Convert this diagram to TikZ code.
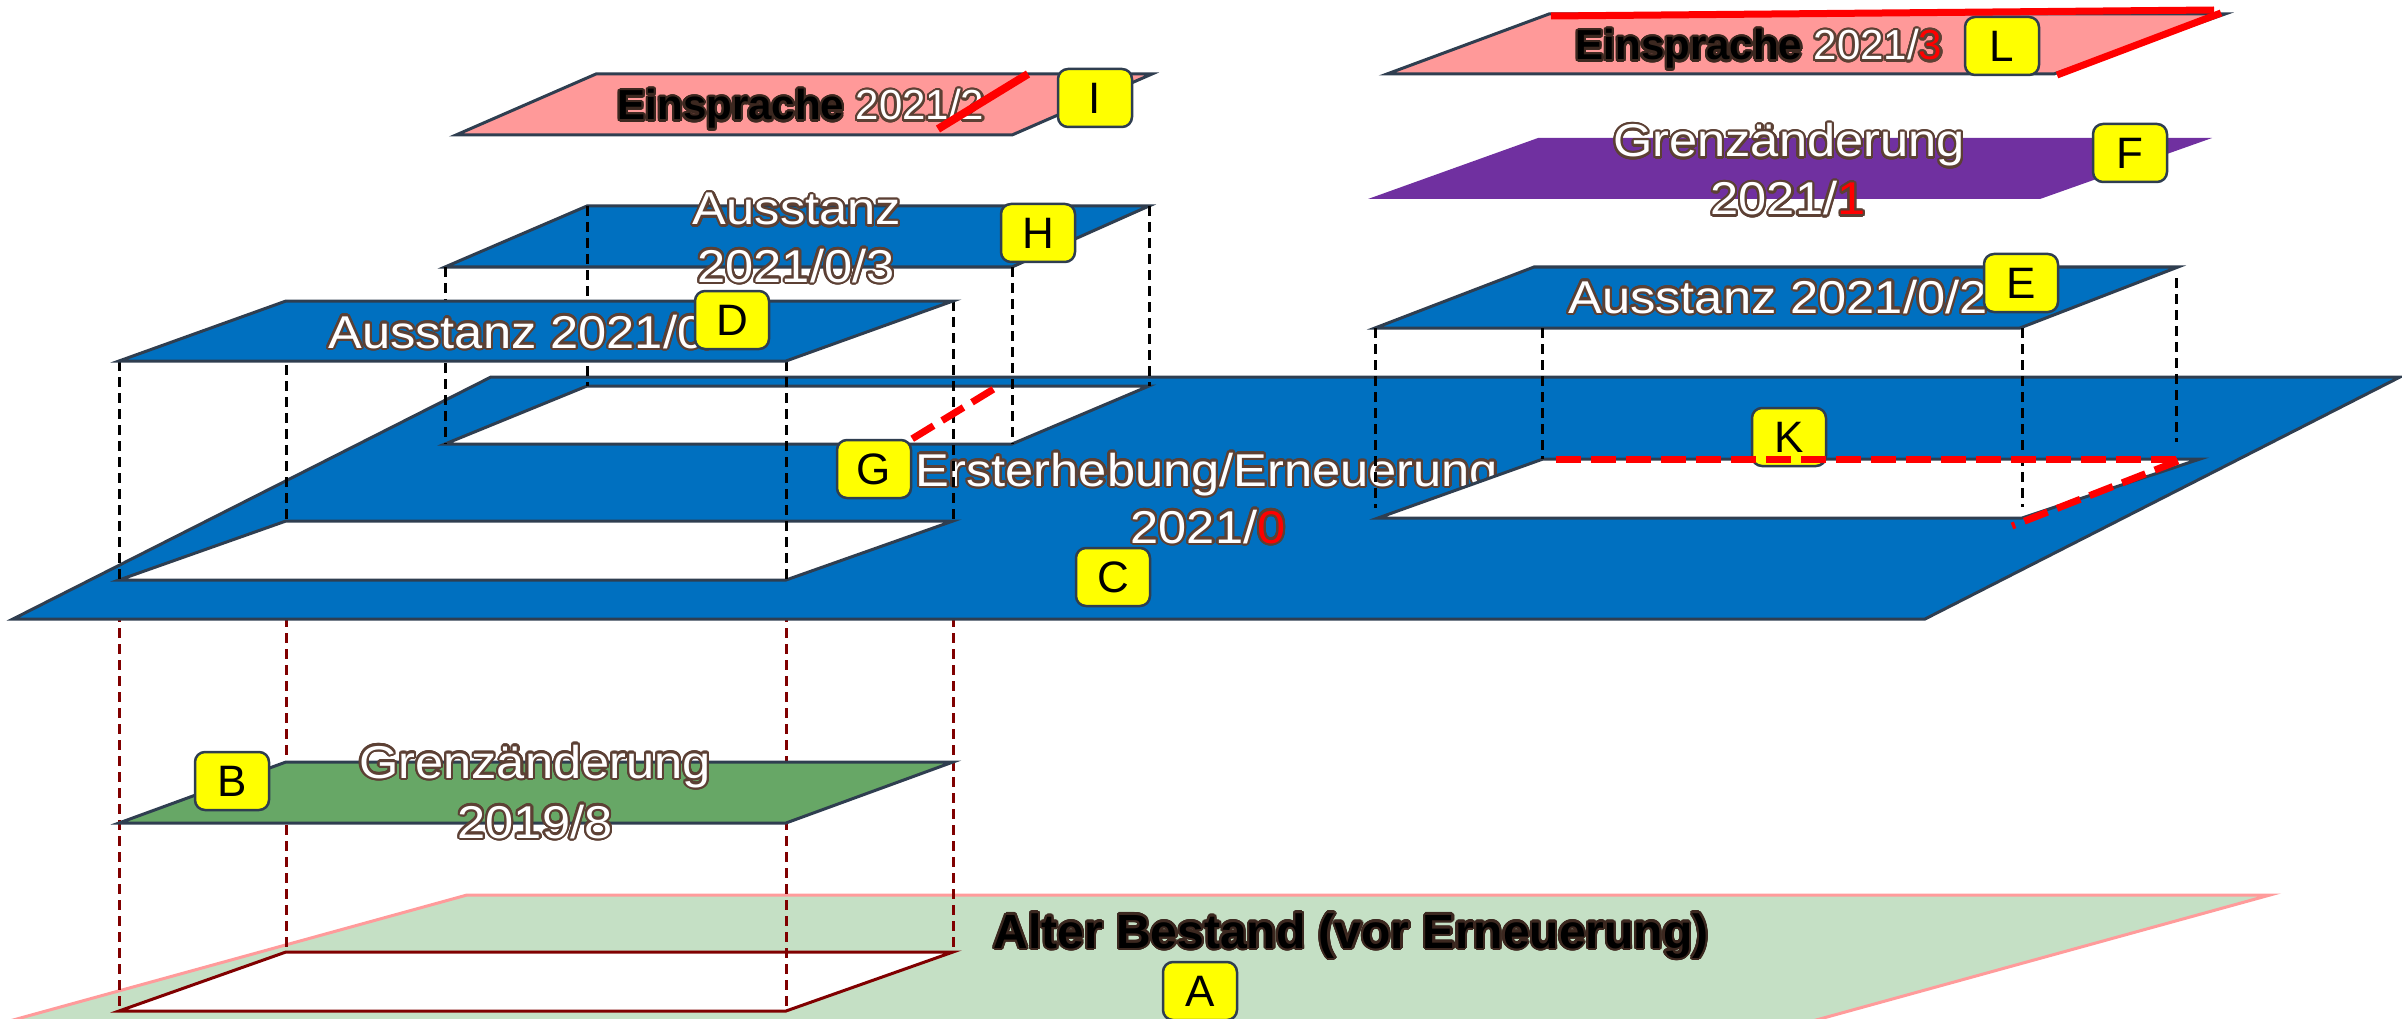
\documentclass[tikz,border=0pt]{standalone}
\usepackage{fontspec}
\setmainfont{Liberation Sans}
\newfontfamily\outlinefont[FakeStretch=1.1]{Liberation Sans}
\usepackage{contour}
\contourlength{2.2pt}
\contournumber{24}

\definecolor{planeblue}{RGB}{0,112,192}
\definecolor{edge}{RGB}{47,62,80}
\definecolor{groundfill}{RGB}{197,224,197}
\definecolor{groundedge}{RGB}{255,155,155}
\definecolor{grassgreen}{RGB}{103,167,102}
\definecolor{objection}{RGB}{255,153,153}
\definecolor{boundary}{RGB}{112,48,160}
\definecolor{darkred}{RGB}{128,0,0}
\definecolor{textrim}{RGB}{92,64,52}
\definecolor{darkrim}{RGB}{60,40,32}
\definecolor{tagyellow}{RGB}{255,255,0}

% white lettering with a brown rim, red variant, and dark bold titles
\newcommand\wtxt[1]{{\color{white}\contour{textrim}{#1}}}
\newcommand\rtxt[1]{{\color{red}\contour{textrim}{#1}}}
\newcommand\btxt[1]{{\color{black}\contour{darkrim}{\bfseries #1}}}

\tikzset{
  plane/.style={draw=edge, line width=3pt, line join=miter},
  holeplane/.style={fill=white, draw=edge, line width=3pt, line join=miter},
  blackdash/.style={black, line width=3pt, dash pattern=on 10pt off 6pt},
  reddash/.style={darkred, line width=3pt, dash pattern=on 10pt off 6pt},
  redmark/.style={red, line width=7pt, dash pattern=on 25pt off 10pt},
  redstrike/.style={red, line width=7pt},
  outlined/.style={anchor=base, inner sep=0pt, font=\outlinefont\fontsize{46}{46}\selectfont},
  darktitle/.style={anchor=base, inner sep=0pt, font=\fontsize{42}{42}\selectfont},
  tag/.style={fill=tagyellow, draw=edge, line width=2.5pt, rounded corners=10pt,
    minimum width=74pt, minimum height=58pt, inner sep=0pt,
    font=\fontsize{44}{44}\selectfont},
}

\begin{document}
\begin{tikzpicture}[x=1pt, y=-1pt]
\useasboundingbox (0,0) rectangle (2402,1019);

% ---------- ground layer A: old stock ----------
\begin{scope}
  \clip (0,0) rectangle (2402,1019);
  \filldraw[fill=groundfill, draw=groundedge, line width=3pt]
    (-132,1060) -- (467,895) -- (2270,895) -- (1671,1060) -- cycle;
\end{scope}
\coordinate (ha1) at (119,1011);
\coordinate (ha2) at (786,1011);
\coordinate (ha3) at (953,952);
\coordinate (ha4) at (286,952);
\filldraw[fill=white, draw=darkred, line width=3pt] (ha1) -- (ha2) -- (ha3) -- (ha4) -- cycle;
\node[anchor=base, inner sep=0pt, font=\fontsize{48}{48}\selectfont] (At) at (1351,948)
  {\btxt{Alter Bestand (vor Erneuerung)}};
\node[tag] (tagA) at (1200,991) {A};

% corners of the left opening in C
\coordinate (ca1) at (119,580);
\coordinate (ca2) at (786,580);
\coordinate (ca3) at (953,521);
\coordinate (ca4) at (286,521);

% dark red guides down to the ground opening
\draw[reddash] (ca1) -- (ha1);
\draw[reddash] (ca2) -- (ha2);
\draw[reddash] (ca3) -- (ha3);
\draw[reddash] (ca4) -- (ha4);

% ---------- B: boundary change 2019/8 ----------
\coordinate (b1) at (119,823);
\coordinate (b2) at (786,823);
\coordinate (b3) at (953,762);
\coordinate (b4) at (286,762);
\filldraw[plane, fill=grassgreen] (b1) -- (b2) -- (b3) -- (b4) -- cycle;
\node[outlined] (Bt1) at (535,778) {\wtxt{Grenzänderung}};
\node[outlined] (Bt2) at (535,838) {\wtxt{2019/8}};
\node[tag] (tagB) at (232,781) {B};

% ---------- C: first survey / renewal ----------
\filldraw[plane, fill=planeblue] (13,619) -- (1925,619) -- (2400,377) -- (491,377) -- cycle;
\filldraw[holeplane] (ca1) -- (ca2) -- (ca3) -- (ca4) -- cycle;
\coordinate (cb1) at (445,444);
\coordinate (cb2) at (1012,444);
\coordinate (cb3) at (1149,386);
\coordinate (cb4) at (587,386);
\filldraw[holeplane] (cb1) -- (cb2) -- (cb3) -- (cb4) -- cycle;
\node[outlined] (Ct1) at (1207,486) {\wtxt{Ersterhebung/Erneuerung}};
\node[outlined] (Ct2) at (1208,543) {\wtxt{2021/}\rtxt{0}};
\coordinate (cc1) at (1378,518);
\coordinate (cc2) at (2022,518);
\coordinate (cc3) at (2200,459);
\coordinate (cc4) at (1543,459);
\filldraw[holeplane] (cc1) -- (cc2) -- (cc3) -- (cc4) -- cycle;

% ---------- H: cut-out 2021/0/3 ----------
\coordinate (h1) at (445,267);
\coordinate (h2) at (1012,267);
\coordinate (h3) at (1149,206);
\coordinate (h4) at (587,206);
\filldraw[plane, fill=planeblue] (h1) -- (h2) -- (h3) -- (h4) -- cycle;
\node[outlined] (Ht1) at (797,225) {\wtxt{Ausstanz}};
\node[outlined] (Ht2) at (796,282) {\wtxt{2021/0/3}};
\draw[blackdash] (h1) -- (cb1);
\draw[blackdash] (h2) -- (cb2);
\draw[blackdash] (h3) -- (cb3);
\draw[blackdash] (h4) -- (cb4);
\node[tag] (tagH) at (1038,233) {H};

% ---------- D: cut-out 2021/0/1 ----------
\coordinate (d1) at (119,361);
\coordinate (d2) at (786,361);
\coordinate (d3) at (953,301);
\coordinate (d4) at (286,301);
\draw[blackdash] (d1) -- (ca1);
\draw[blackdash] (d2) -- (ca2);
\draw[blackdash] (d3) -- (ca3);
\draw[blackdash] (d4) -- (ca4);
\filldraw[plane, fill=planeblue] (d1) -- (d2) -- (d3) -- (d4) -- cycle;
\node[outlined] (Dt) at (538,348) {\wtxt{Ausstanz 2021/0/1}};
\node[tag] (tagD) at (732,320) {D};

% ---------- E: cut-out 2021/0/2 ----------
\coordinate (e1) at (1375,328);
\coordinate (e2) at (2020,328);
\coordinate (e3) at (2178,267);
\coordinate (e4) at (1534,267);
\filldraw[plane, fill=planeblue] (e1) -- (e2) -- (e3) -- (e4) -- cycle;
\coordinate (el1) at (1375,508);
\coordinate (el2a) at (2022,328);
\coordinate (el2) at (2022,507);
\coordinate (el3a) at (2176,278);
\coordinate (el3) at (2176,442);
\coordinate (el4a) at (1542,328);
\draw[blackdash] (e1) -- (el1);
\draw[blackdash] (el2a) -- (el2);
\draw[blackdash] (el3a) -- (el3);
\draw[blackdash] (el4a) -- (cc4 -| el4a);
\node[outlined] (Et) at (1778,313) {\wtxt{Ausstanz 2021/0/2}};
\node[tag] (tagE) at (2021,283) {E};

% ---------- markers on C ----------
\node[tag] (tagK) at (1789,437) {K};
\coordinate (k1) at (1556,459);
\coordinate (k2) at (2182,459);
\coordinate (k3) at (2178,461);
\coordinate (k4) at (2012,526);
\draw[redmark] (k1) -- (k2);
\draw[redmark] (k3) -- (k4);
\node[tag] (tagG) at (874,469) {G};
\coordinate (gEnd) at (997,387);
\draw[redmark] (tagG.north east) -- (gEnd);
\node[tag] (tagC) at (1113,577) {C};

% ---------- F: boundary change 2021/1 ----------
\fill[boundary] (1368,199) -- (2040,199) -- (2212,138) -- (1538,138) -- cycle;
\node[outlined] (Ft1) at (1789,157) {\wtxt{Grenzänderung}};
\node[outlined] (Ft2) at (1788,215) {\wtxt{2021/}\rtxt{1}};
\node[tag] (tagF) at (2130,153) {F};

% ---------- I: objection 2021/2 (struck) ----------
\filldraw[plane, fill=objection] (456,135) -- (1012,135) -- (1152,74) -- (596,74) -- cycle;
\node[darktitle] (It) at (801,120) {\btxt{Einsprache} \wtxt{2021/2}};
\node[tag] (tagI) at (1095,98) {I};
\coordinate (iS1) at (938,129);
\coordinate (iS2) at (1028,74);
\draw[redstrike, line width=8pt] (iS1) -- (iS2);

% ---------- L: objection 2021/3 ----------
\filldraw[plane, fill=objection] (1387,74) -- (2054,74) -- (2225,14) -- (1549,14) -- cycle;
\node[darktitle] (Lt) at (1759,60) {\btxt{Einsprache} \wtxt{2021/}\rtxt{3}};
\node[tag] (tagL) at (2002,46) {L};
\coordinate (lS1) at (1551,16);
\coordinate (lS2) at (2214,10);
\coordinate (lS3) at (2221,13);
\coordinate (lS4) at (2057,75);
\draw[redstrike] (lS1) -- (lS2);
\draw[redstrike] (lS3) -- (lS4);
\end{tikzpicture}
\end{document}
